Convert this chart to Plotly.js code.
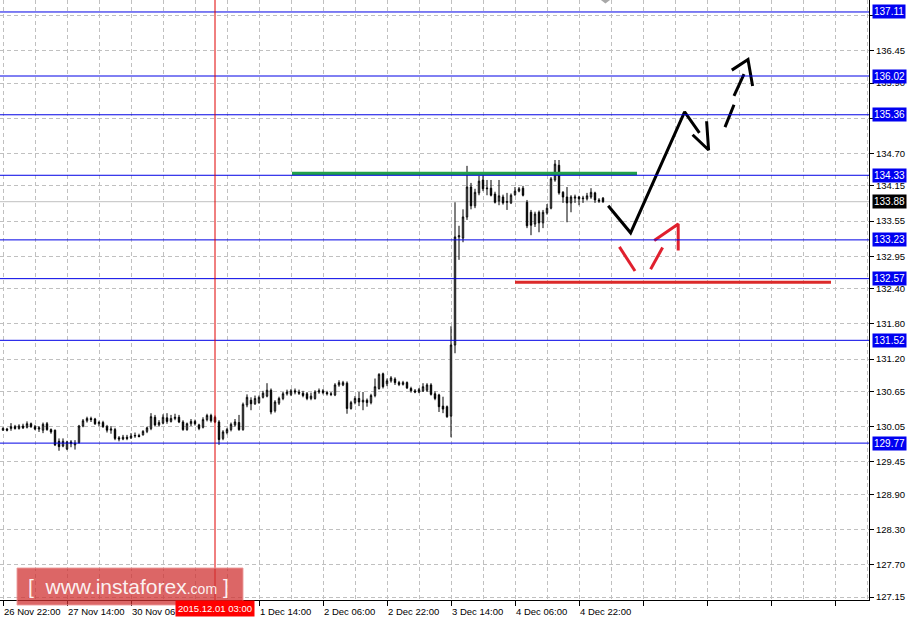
<!DOCTYPE html>
<html>
<head>
<meta charset="utf-8">
<script src="https://cdn.plot.ly/plotly-3.0.1.min.js"></script>
<style>html,body{margin:0;padding:0;background:#fff;}#chart{width:920px;height:620px;}</style>
</head>
<body>
<div id="chart"></div>
<script>
// ---- EURJPY H1 candles, index 0 = 26 Nov 22:00 ----
const open = [129.99,130.01,130.02,130.05,130.02,130.06,130.04,130.10,130.05,130.01,
129.99,130.10,130.00,129.99,129.80,129.72,129.67,129.79,129.74,129.78,
130.06,130.15,130.19,130.18,130.10,130.12,130.05,129.99,130.00,129.86,
129.84,129.87,129.86,129.89,129.90,129.91,129.97,130.02,130.21,130.08,
130.11,130.20,130.14,130.19,130.21,130.13,130.00,130.10,130.14,130.08,
130.04,130.17,130.24,130.21,130.13,129.85,129.95,130.00,130.08,130.12,
130.00,130.42,130.50,130.44,130.46,130.55,130.57,130.67,130.32,130.45,
130.53,130.61,130.60,130.66,130.64,130.62,130.61,130.53,130.53,130.64,
130.66,130.63,130.61,130.59,130.76,130.76,130.79,130.36,130.46,130.53,
130.47,130.50,130.46,130.58,130.70,130.95,130.78,130.83,130.86,130.80,
130.77,130.80,130.70,130.66,130.64,130.66,130.67,130.76,130.61,130.59,
130.40,130.39,130.23,131.44,133.28,133.26,133.62,134.13,133.81,134.03,
134.25,134.10,134.11,134.01,133.89,133.96,133.87,133.86,134.00,134.06,
134.11,133.87,133.70,133.50,133.70,133.52,133.69,133.77,134.25,134.50,
134.04,133.96,133.86,133.94,133.96,133.93,133.93,133.96,134.03,133.91,
133.94];
const close = [130.02,129.99,130.05,130.02,130.06,130.03,130.10,130.05,130.01,130.03,
130.09,130.00,129.96,129.74,129.71,129.80,129.79,129.76,129.77,130.06,
130.15,130.19,130.17,130.10,130.12,130.05,129.99,130.01,129.85,129.84,
129.87,129.85,129.89,129.90,129.88,129.97,130.03,130.22,130.08,130.12,
130.21,130.14,130.19,130.21,130.13,130.00,130.10,130.14,130.10,130.02,
130.17,130.24,130.15,130.13,129.83,129.96,130.00,130.09,130.13,130.00,
130.43,130.55,130.44,130.53,130.55,130.62,130.67,130.30,130.47,130.53,
130.61,130.64,130.66,130.64,130.62,130.58,130.53,130.57,130.64,130.66,
130.63,130.61,130.60,130.76,130.80,130.80,130.36,130.46,130.53,130.47,
130.50,130.46,130.58,130.73,130.94,130.73,130.83,130.88,130.80,130.77,
130.80,130.71,130.66,130.64,130.68,130.73,130.76,130.60,130.53,130.39,
130.35,130.22,131.44,133.28,133.30,133.62,134.13,133.81,134.04,134.23,
134.10,134.11,133.99,133.87,133.98,133.86,133.88,133.99,134.06,134.10,
133.99,133.47,133.48,133.67,133.52,133.70,133.77,134.27,134.52,134.03,
133.96,133.86,133.96,133.96,133.93,133.94,133.98,134.04,133.91,133.89,
133.88];
const high = [130.04,130.03,130.11,130.08,130.09,130.10,130.14,130.12,130.08,130.06,
130.12,130.13,130.02,130.00,129.85,129.85,129.81,129.82,129.82,130.08,
130.18,130.22,130.22,130.20,130.15,130.15,130.08,130.06,130.03,129.89,
129.91,129.91,129.94,129.95,129.93,129.99,130.05,130.28,130.25,130.16,
130.26,130.28,130.25,130.27,130.25,130.16,130.12,130.18,130.17,130.10,
130.21,130.27,130.27,130.24,130.16,129.99,130.03,130.12,130.18,130.25,
130.46,130.60,130.55,130.58,130.58,130.66,130.79,130.70,130.50,130.56,
130.64,130.68,130.69,130.70,130.68,130.66,130.64,130.63,130.67,130.70,
130.69,130.66,130.64,130.79,130.84,130.83,130.82,130.49,130.57,130.64,
130.64,130.53,130.61,130.87,130.96,130.97,130.87,130.91,130.89,130.83,
130.83,130.82,130.73,130.69,130.71,130.79,130.79,130.79,130.65,130.61,
130.56,130.41,131.76,133.87,133.47,133.75,134.49,134.20,134.10,134.32,
134.33,134.25,134.25,134.05,134.25,134.00,134.03,134.02,134.13,134.13,
134.15,133.91,133.74,133.71,133.73,133.74,133.84,134.30,134.59,134.59,
134.06,134.13,133.99,134.00,133.98,133.98,134.03,134.11,134.05,133.94,
133.96];
const low = [129.98,129.97,129.98,130.00,130.00,130.01,130.02,130.03,129.99,129.96,
129.94,129.98,129.93,129.72,129.64,129.70,129.65,129.70,129.66,129.76,
130.04,130.12,130.13,130.08,130.06,130.03,129.95,129.93,129.82,129.80,
129.82,129.82,129.84,129.86,129.87,129.90,129.94,129.99,130.06,130.05,
130.09,130.10,130.12,130.16,130.11,129.98,129.98,130.06,130.07,129.99,
130.02,130.14,130.12,130.11,129.74,129.82,129.92,129.97,130.05,129.98,
129.98,130.38,130.33,130.42,130.44,130.53,130.55,130.26,130.29,130.42,
130.50,130.58,130.57,130.60,130.59,130.55,130.50,130.50,130.51,130.61,
130.60,130.58,130.57,130.57,130.73,130.74,130.27,130.34,130.43,130.40,
130.33,130.39,130.43,130.55,130.68,130.70,130.74,130.80,130.76,130.74,
130.75,130.69,130.63,130.62,130.62,130.64,130.64,130.58,130.50,130.30,
130.28,130.20,129.87,131.30,132.89,133.19,133.57,133.75,133.77,133.99,
134.06,133.99,133.97,133.85,133.82,133.83,133.74,133.84,133.98,134.04,
133.97,133.43,133.31,133.45,133.36,133.43,133.66,133.75,134.22,134.00,
133.86,133.53,133.70,133.86,133.82,133.86,133.90,133.93,133.86,133.86,
133.86];

// time-axis labels (bar index -> label); bar 48 label is hidden under the cursor box
const timeTickIdx  = [0,16,32,64,80,96,112,128,144];
const timeTickText = ['26 Nov 22:00','27 Nov 14:00','30 Nov 06','1 Dec 14:00',
                      '2 Dec 06:00','2 Dec 22:00','3 Dec 14:00','4 Dec 06:00','4 Dec 22:00'];
const crossIdx = 53;
const crossText = '2015.12.01 03:00';

// price axis labels (137.05 and 135.30 sit under level boxes)
const priceTicks = [137.05,136.45,135.90,135.30,134.70,134.15,133.55,132.95,132.40,
                    131.80,131.20,130.65,130.05,129.45,128.90,128.30,127.70,127.15];
const hiddenTicks = [137.05,135.30];

// horizontal levels
const levels = [137.11,136.02,135.36,134.33,133.23,132.57,131.52,129.77];
const bidPrice = 133.88;

// analyst drawings (bar index, price)
const greenX = [72.25,158.5],  greenY = [134.36,134.36];
const redLvlX = [128,207],     redLvlY = [132.51,132.51];
const blackPathX = [151.3,156.9,170.4,174.1], blackPathY = [133.81,133.35,135.41,135.05];
const blackHeadX = [172.4,176.4,175.9],       blackHeadY = [135.02,134.76,135.25];
const dashX = [180.5,182.75,null,182.75,185.25], dashY = [135.15,135.53,null,135.68,136.05];
const dashHeadX = [182.2,186.25,187.4], dashHeadY = [136.12,136.30,135.85];
const redV1X = [154.1,158.0], redV1Y = [133.11,132.70];
const redV2X = [164.9,161.9], redV2Y = [133.10,132.73];
const redArX = [162.8,168.8,168.8], redArY = [133.22,133.50,133.05];

const idx = open.map((_, i) => i);
const FONT = 'Liberation Sans, Arial, sans-serif';

const traces = [
  {type:'candlestick', x: idx, open, high, low, close,
   increasing:{line:{color:'#000',width:1}, fillcolor:'#fff'},
   decreasing:{line:{color:'#000',width:1}, fillcolor:'#000'},
   whiskerwidth:0, hoverinfo:'skip', showlegend:false},
  {type:'scatter', mode:'lines', x: greenX, y: greenY, line:{color:'#22a04a', width:3.5}, hoverinfo:'skip'},
  {type:'scatter', mode:'lines', x: redLvlX, y: redLvlY, line:{color:'#dc2a2a', width:3}, hoverinfo:'skip'},
  {type:'scatter', mode:'lines', x: blackPathX, y: blackPathY, line:{color:'#000', width:3}, hoverinfo:'skip'},
  {type:'scatter', mode:'lines', x: blackHeadX, y: blackHeadY, line:{color:'#000', width:3}, hoverinfo:'skip'},
  {type:'scatter', mode:'lines', x: dashX, y: dashY, line:{color:'#000', width:3}, connectgaps:false, hoverinfo:'skip'},
  {type:'scatter', mode:'lines', x: dashHeadX, y: dashHeadY, line:{color:'#000', width:3}, hoverinfo:'skip'},
  {type:'scatter', mode:'lines', x: redV1X, y: redV1Y, line:{color:'#e0202e', width:3}, hoverinfo:'skip'},
  {type:'scatter', mode:'lines', x: redV2X, y: redV2Y, line:{color:'#e0202e', width:3}, hoverinfo:'skip'},
  {type:'scatter', mode:'lines', x: redArX, y: redArY, line:{color:'#e0202e', width:3}, hoverinfo:'skip'}
];

const shapes = [];
levels.forEach(v => shapes.push({type:'line', xref:'paper', x0:0, x1:1, yref:'y', y0:v, y1:v,
  line:{color:'#0000e6', width:1}, layer:'above'}));
shapes.push({type:'line', xref:'paper', x0:0, x1:1, yref:'y', y0:bidPrice, y1:bidPrice,
  line:{color:'#c0c0c0', width:1}, layer:'below'});
shapes.push({type:'line', xref:'x', x0:crossIdx, x1:crossIdx, yref:'paper', y0:-0.006, y1:1,
  line:{color:'#e00000', width:1}, layer:'above'});
// chart-shift marker
shapes.push({type:'path', xref:'paper', yref:'paper',
  path:'M 0.6915 1 L 0.7020 1 L 0.6967 0.994 Z', fillcolor:'#a8a8a8', line:{width:0}});
// watermark box
shapes.push({type:'rect', xref:'paper', yref:'paper', x0:0.0196, x1:0.2796, y0:-0.0083, y1:0.0533,
  fillcolor:'rgba(208,48,48,0.74)', line:{color:'rgba(235,150,150,0.9)', width:1}, layer:'above'});

const annotations = [];
timeTickIdx.forEach((v, k) => annotations.push({xref:'x', x:v, yref:'paper', y:0, xanchor:'left', yanchor:'top',
  yshift:-4, xshift:-1, text:timeTickText[k], showarrow:false, font:{family:FONT, size:9.5, color:'#000'}}));
annotations.push({xref:'x', x:crossIdx, yref:'paper', y:-0.015, xanchor:'center', yanchor:'middle',
  text:crossText, showarrow:false, bgcolor:'#ff0000', borderpad:2, font:{family:FONT, size:9.5, color:'#fff'}});
levels.forEach(v => annotations.push({xref:'paper', x:1, yref:'y', y:v, xanchor:'left', yanchor:'middle',
  xshift:3, text:v.toFixed(2), showarrow:false, bgcolor:'#0000f0', borderpad:1,
  font:{family:FONT, size:10, color:'#fff'}}));
annotations.push({xref:'paper', x:1, yref:'y', y:bidPrice, xanchor:'left', yanchor:'middle',
  xshift:3, text:bidPrice.toFixed(2), showarrow:false, bgcolor:'#000', borderpad:1,
  font:{family:FONT, size:10, color:'#fff'}});
annotations.push({xref:'paper', x:0.1479, yref:'paper', y:0.022, xanchor:'center', yanchor:'middle',
  text:'[\u00a0\u00a0www.instaforex<span style="font-size:14px">.com</span>\u00a0]', showarrow:false,
  font:{family:FONT, size:21, color:'rgba(255,255,255,0.92)'}});

const gridStyle = {gridcolor:'#c0c0c0', griddash:'4px,3px', gridwidth:1};

const layout = {
  width:920, height:620,
  margin:{l:0, r:51, t:0, b:20, pad:0},
  paper_bgcolor:'#fff', plot_bgcolor:'#fff',
  showlegend:false, dragmode:false, boxgap:0.5,
  xaxis:{type:'linear', range:[-0.75,216.5], tickmode:'linear', tick0:0, dtick:16,
    showticklabels:false, ticks:'outside', ticklen:5, tickcolor:'#000',
    showgrid:true, ...gridStyle, zeroline:false,
    showline:true, linecolor:'#000', linewidth:1,
    minor:{tickmode:'linear', tick0:0, dtick:8, showgrid:true, gridcolor:'#c0c0c0', griddash:'4px,3px', ticks:''},
    rangeslider:{visible:false}, fixedrange:true},
  yaxis:{side:'right', range:[127.099,137.314], tickmode:'array', tickvals:priceTicks,
    ticktext:priceTicks.map(v => hiddenTicks.includes(v) ? '' : v.toFixed(2)), ticks:'outside', ticklen:4, tickcolor:'#000',
    tickfont:{family:FONT, size:9.5, color:'#000'},
    showgrid:true, ...gridStyle, zeroline:false,
    showline:true, linecolor:'#000', linewidth:1, fixedrange:true},
  shapes, annotations
};

Plotly.newPlot('chart', traces, layout, {staticPlot:true, displayModeBar:false});
</script>
</body>
</html>
